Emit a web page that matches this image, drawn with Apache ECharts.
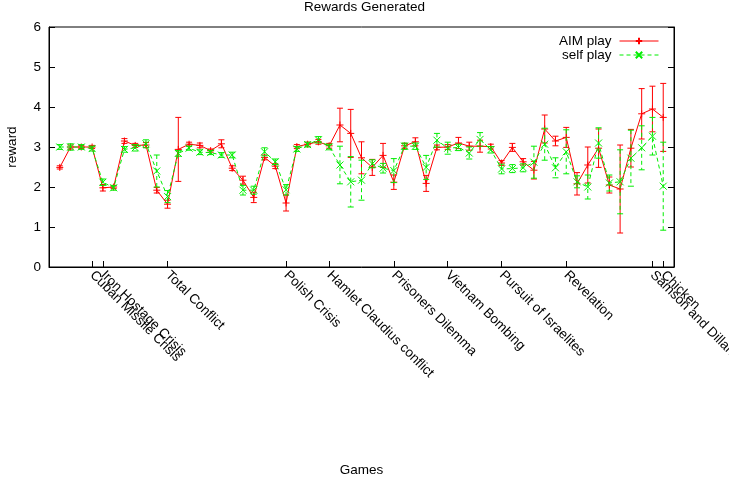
<!DOCTYPE html>
<html>
<head>
<meta charset="utf-8">
<script src="https://cdn.jsdelivr.net/npm/echarts@6/dist/echarts.min.js"></script>
<style>
  html, body { margin: 0; padding: 0; background: #fff; }
  #chart { width: 729px; height: 483px; }
</style>
</head>
<body>
<div id="chart"></div>
<script>
// Games are numbered 1..57 along the x axis; only some carry a name label.
const tickPositions = [4, 5, 11, 22, 26, 32, 37, 42, 48, 56, 57];
const tickLabels = [
  'Cuban Missile Crisis', 'Iron Hostage Crisis', 'Total Conflict', 'Polish Crisis',
  'Hamlet Claudius conflict', 'Prisoners Dilemma', 'Vietnam Bombing',
  'Pursuit of Israelites', 'Revelation', 'Samson and Dillah', 'Chicken'
];

// Mean reward per game and its error, for each way of playing.
const aimPlay = [
  2.49, 3.00, 3.00, 3.00, 1.98, 2.00, 3.15, 3.04, 3.05, 1.92,
  1.57, 2.94, 3.07, 3.04, 2.91, 3.08, 2.47, 2.17, 1.74, 2.74,
  2.52, 1.60, 3.01, 3.07, 3.13, 3.03, 3.55, 3.34, 2.73, 2.49,
  2.79, 2.12, 3.03, 3.13, 2.09, 2.99, 3.00, 3.10, 3.02, 3.02,
  3.01, 2.60, 2.99, 2.63, 2.42, 3.45, 3.15, 3.24, 2.08, 2.55,
  2.97, 2.05, 1.95, 2.97, 3.83, 3.95, 3.74
];
const aimPlayErr = [
  0.04, 0.05, 0.04, 0.04, 0.08, 0.04, 0.06, 0.05, 0.06, 0.07,
  0.10, 0.80, 0.05, 0.06, 0.04, 0.10, 0.06, 0.10, 0.13, 0.06,
  0.06, 0.20, 0.05, 0.05, 0.06, 0.06, 0.42, 0.60, 0.40, 0.20,
  0.30, 0.18, 0.06, 0.10, 0.20, 0.06, 0.06, 0.14, 0.10, 0.15,
  0.06, 0.06, 0.10, 0.08, 0.22, 0.35, 0.12, 0.25, 0.28, 0.45,
  0.48, 0.20, 1.10, 0.47, 0.63, 0.57, 0.85
];
const selfPlay = [
  3.00, 3.00, 3.00, 2.96, 2.12, 1.98, 2.94, 2.98, 3.08, 2.40,
  1.76, 2.84, 2.97, 2.87, 2.86, 2.80, 2.80, 1.92, 1.92, 2.88,
  2.63, 1.93, 2.95, 3.06, 3.18, 3.00, 2.55, 2.13, 2.17, 2.58,
  2.47, 2.41, 3.02, 3.02, 2.49, 3.17, 2.97, 2.99, 2.85, 3.19,
  2.93, 2.45, 2.46, 2.48, 2.62, 3.07, 2.48, 2.88, 2.13, 2.00,
  3.10, 2.10, 2.13, 2.72, 2.98, 3.27, 2.02
];
const selfPlayErr = [
  0.06, 0.08, 0.06, 0.06, 0.08, 0.06, 0.07, 0.08, 0.10, 0.40,
  0.15, 0.07, 0.05, 0.06, 0.05, 0.06, 0.07, 0.12, 0.10, 0.10,
  0.07, 0.13, 0.06, 0.06, 0.08, 0.07, 0.47, 0.63, 0.50, 0.10,
  0.12, 0.30, 0.08, 0.08, 0.30, 0.17, 0.15, 0.08, 0.15, 0.17,
  0.08, 0.12, 0.10, 0.10, 0.40, 0.40, 0.25, 0.55, 0.15, 0.30,
  0.38, 0.20, 0.80, 0.70, 0.55, 0.47, 1.10
];

const FONT = '"Liberation Sans", Arial, Helvetica, sans-serif';
const RED = '#ff0000';
const GREEN = '#00ee00';
const X_MAX = aimPlay.length + 1;

// Category slots 0..58 so the first game sits one slot in from the frame.
const categories = [];
for (let i = 0; i <= X_MAX; i++) categories.push(String(i));
const labelAt = {};
tickPositions.forEach((p, k) => { labelAt[p] = tickLabels[k]; });

// Neighbouring names sit one slot apart; split them over two stacked axes
// so the label layout keeps every one of them.
const slotsA = {}, slotsB = {};
tickPositions.forEach((p) => {
  if (labelAt[p - 1] !== undefined) slotsB[p] = true; else slotsA[p] = true;
});
const inA = (idx) => slotsA[idx] === true;
const inB = (idx) => slotsB[idx] === true;

const toPoints = (vals) => vals.map((v, i) => [i + 1, v]);
const toBars = (vals, errs) => vals.map((v, i) => [i + 1, v, errs[i]]);

function errorBarRenderer(color, dash) {
  return function (params, api) {
    const x = api.value(0), y = api.value(1), e = api.value(2);
    const hi = api.coord([x, y + e]);
    const lo = api.coord([x, y - e]);
    const cap = 3;
    return {
      type: 'group',
      children: [
        { type: 'line', shape: { x1: hi[0], y1: hi[1], x2: lo[0], y2: lo[1] },
          style: { stroke: color, lineWidth: 1, lineDash: dash } },
        { type: 'line', shape: { x1: hi[0] - cap, y1: hi[1], x2: hi[0] + cap, y2: hi[1] },
          style: { stroke: color, lineWidth: 1 } },
        { type: 'line', shape: { x1: lo[0] - cap, y1: lo[1], x2: lo[0] + cap, y2: lo[1] },
          style: { stroke: color, lineWidth: 1 } }
      ]
    };
  };
}

const chart = echarts.init(document.getElementById('chart'), null, { renderer: 'canvas' });

const labelStyle = { fontSize: 13.5, color: '#000', fontFamily: FONT };

function makeXAxis(filter, withLine) {
  return {
    type: 'category',
    data: categories,
    boundaryGap: false,
    position: 'bottom',
    offset: 0,
    axisLine: { show: withLine, lineStyle: { color: '#000', width: 1 } },
    axisTick: { show: true, inside: true, length: 6, interval: filter, lineStyle: { color: '#000' } },
    axisLabel: Object.assign({
      interval: filter,
      hideOverlap: false,
      rotate: -45,
      margin: 6,
      formatter: (val, idx) => labelAt[idx] || ''
    }, labelStyle),
    splitLine: { show: false }
  };
}

const xMain = makeXAxis(inA, true);
Object.assign(xMain, {
  name: 'Games', nameLocation: 'middle', nameGap: 196, nameTextStyle: labelStyle
});
const xSecond = makeXAxis(inB, false);

const yAxisBase = {
  type: 'value', min: 0, max: 6, interval: 1,
  axisLine: { show: true, lineStyle: { color: '#000', width: 1 } },
  axisTick: { show: true, inside: true, length: 6, lineStyle: { color: '#000' } },
  splitLine: { show: false }
};

chart.setOption({
  animation: false,
  backgroundColor: '#fff',
  textStyle: { fontFamily: FONT },
  title: {
    text: 'Rewards Generated',
    left: 'center', top: 0, padding: [0, 0, 0, 0],
    textStyle: { fontSize: 13.5, fontWeight: 'normal', color: '#000', fontFamily: FONT }
  },
  legend: {
    data: ['AIM play', 'self play'],
    orient: 'vertical',
    align: 'right',
    right: 70, top: 34, padding: 0,
    itemWidth: 39, itemHeight: 8, itemGap: 0,
    lineStyle: { width: 1 },
    textStyle: { fontSize: 13.5, lineHeight: 13, color: '#000', fontFamily: FONT, padding: [0, 3, 0, 0] }
  },
  grid: {
    left: 49, right: 55, top: 27, bottom: 216,
    show: true, borderColor: '#000', borderWidth: 1,
    outerBoundsMode: 'none'
  },
  xAxis: [xMain, xSecond],
  yAxis: [
    Object.assign({}, yAxisBase, {
      position: 'left',
      name: 'reward',
      nameLocation: 'middle',
      nameGap: 30,
      nameRotate: 90,
      nameTextStyle: labelStyle,
      axisLabel: Object.assign({ margin: 8 }, labelStyle)
    }),
    Object.assign({}, yAxisBase, {
      position: 'right',
      axisLabel: { show: false }
    })
  ],
  series: [
    {
      name: 'AIM play error', type: 'custom',
      renderItem: errorBarRenderer(RED, null),
      data: toBars(aimPlay, aimPlayErr),
      encode: { x: 0, y: 1 }, z: 2, silent: true
    },
    {
      name: 'AIM play', type: 'line',
      data: toPoints(aimPlay),
      symbol: 'path://M0,4L8,4M4,0L4,8', symbolSize: 7, showSymbol: true,
      itemStyle: { color: 'rgba(0,0,0,0)', borderColor: RED, borderWidth: 1 },
      lineStyle: { color: RED, width: 1 },
      z: 3
    },
    {
      name: 'self play error', type: 'custom',
      renderItem: errorBarRenderer(GREEN, [4, 3]),
      data: toBars(selfPlay, selfPlayErr),
      encode: { x: 0, y: 1 }, z: 4, silent: true
    },
    {
      name: 'self play', type: 'line',
      data: toPoints(selfPlay),
      symbol: 'path://M0,0L8,8M8,0L0,8', symbolSize: 7, showSymbol: true,
      itemStyle: { color: 'rgba(0,0,0,0)', borderColor: GREEN, borderWidth: 1 },
      lineStyle: { color: GREEN, width: 1, type: [4, 3] },
      z: 5
    }
  ]
});
</script>
</body>
</html>
